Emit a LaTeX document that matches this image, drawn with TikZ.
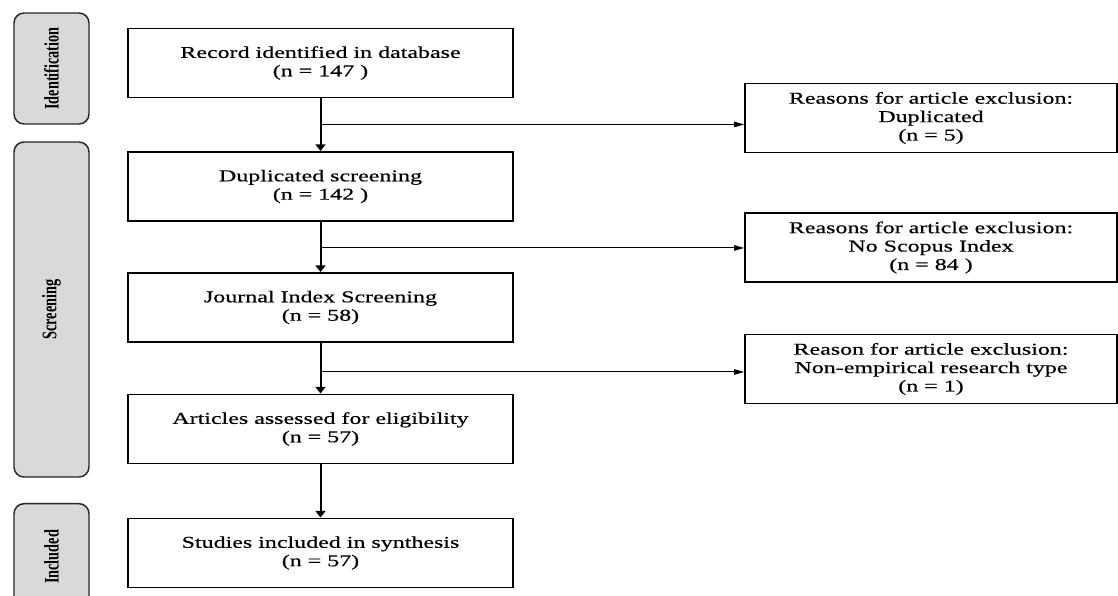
\documentclass[tikz,border=0pt]{standalone}
\usepackage{fontspec}
\setmainfont{Liberation Serif}
\newfontfamily\boxfont[FakeStretch=1.45,FakeBold=0.5]{Liberation Serif}
\newfontfamily\phasefont[FakeStretch=0.69]{Liberation Serif}
\usetikzlibrary{arrows.meta}

\begin{document}
\begin{tikzpicture}[x=0.75pt,y=-0.75pt,
    phase/.style={draw=black!85,line width=1.1pt,fill=black!15,rounded corners=7.5pt,
        rotate=90,minimum height=56.25pt,inner sep=0pt,font=\phasefont\bfseries\fontsize{15.5}{16}\selectfont},
    stepbox/.style={draw,line width=1.2pt,minimum width=288.75pt,minimum height=52pt,
        inner sep=0pt,align=center,font=\boxfont\fontsize{12.4}{13.8}\selectfont},
    exclbox/.style={stepbox,minimum width=279pt},
    flow/.style={line width=1.5pt,-{Triangle[length=5pt,width=7.5pt]}},
    side/.style={line width=0.75pt,-{Triangle[length=7.5pt,width=4pt]}}]
    \clip (0,0) rectangle (1118,596);
    % phases
    \node[phase,minimum width=83.25pt] (idphase) at (51.5,68.5) {Identification};
    \node[phase,minimum width=251.25pt] (scrphase) at (51.5,309.5) {Screening};
    \node[phase,minimum width=80pt] (incphase) at (51.5,557) {Included};
    % main flow
    \node[stepbox] (rec) at (320.5,63) {Record identified in database\\(n = 147 )};
    \node[stepbox] (dup) at (320.5,186.5) {Duplicated screening\\(n = 142 )};
    \node[stepbox] (jour) at (320.5,307.5) {Journal Index Screening\\(n = 58)};
    \node[stepbox] (art) at (320.5,429) {Articles assessed for eligibility\\(n = 57)};
    \node[stepbox] (stud) at (320.5,553) {Studies included in synthesis\\(n = 57)};
    % exclusions
    \node[exclbox] (ex1) at (931,118) {Reasons for article exclusion:\\Duplicated\\(n = 5)};
    \node[exclbox] (ex2) at (931,247.5) {Reasons for article exclusion:\\No Scopus Index\\(n = 84 )};
    \node[exclbox] (ex3) at (931,369) {Reason for article exclusion:\\Non-empirical research type\\(n = 1)};
    \path (rec.south) ++(0,26) coordinate (b1);
    \path (dup.south) ++(0,26) coordinate (b2);
    \path (jour.south) ++(0,29) coordinate (b3);
    \draw[flow] (rec) -- (dup);
    \draw[flow] (dup) -- (jour);
    \draw[flow] (jour) -- (art);
    \draw[flow] (art) -- (stud);
    \draw[side] (b1) -- (b1 -| ex1.west);
    \draw[side] (b2) -- (b2 -| ex2.west);
    \draw[side] (b3) -- (b3 -| ex3.west);
\end{tikzpicture}
\end{document}
